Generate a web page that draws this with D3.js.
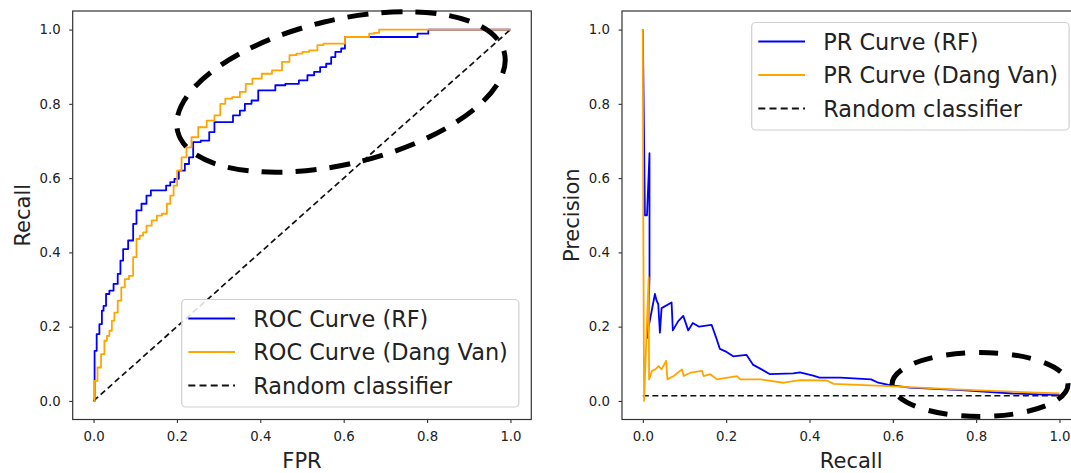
<!DOCTYPE html>
<html><head><meta charset="utf-8">
<script src="https://cdn.jsdelivr.net/npm/d3@7"></script>
<style>
html,body{margin:0;padding:0;background:#fff;}
svg{display:block;font-family:"DejaVu Sans",sans-serif;}
</style></head>
<body><svg id="c" width="1071" height="473"></svg>
<script>
// ---------- data ----------
const tickValues = [0, 0.2, 0.4, 0.6, 0.8, 1.0];

const rocRF_fpr = [0,0.005,0.01,0.018,0.022,0.026,0.034,0.042,0.054,0.062,0.067,0.075,0.091,0.099,0.107,0.123,0.131,0.144,0.172,0.176,0.192,0.196,0.213,0.225,0.233,0.245,0.269,0.286,0.294,0.326,0.343,0.359,0.367,0.391,0.399,0.432,0.44,0.48,0.505,0.521,0.537,0.55,0.566,0.574,0.586,0.602,0.604,0.773,0.781,0.801,0.805,1.0];
const rocRF_tpr = [0,0.135,0.18,0.207,0.243,0.256,0.288,0.297,0.315,0.342,0.378,0.409,0.432,0.477,0.513,0.531,0.553,0.567,0.567,0.58,0.589,0.598,0.62,0.638,0.656,0.697,0.701,0.724,0.751,0.751,0.769,0.782,0.8,0.809,0.836,0.836,0.85,0.854,0.863,0.877,0.886,0.899,0.908,0.926,0.94,0.949,0.98,0.98,0.989,0.989,1.0,1.0];

const rocDV_fpr = [0,0.005,0.014,0.022,0.03,0.034,0.042,0.046,0.054,0.062,0.071,0.079,0.091,0.099,0.107,0.115,0.123,0.131,0.148,0.156,0.172,0.18,0.188,0.196,0.205,0.217,0.229,0.241,0.261,0.282,0.298,0.31,0.322,0.343,0.359,0.371,0.391,0.416,0.44,0.464,0.476,0.497,0.505,0.529,0.545,0.558,0.602,0.604,0.659,0.663,0.683,0.687,1.0];
const rocDV_tpr = [0,0.054,0.09,0.126,0.162,0.175,0.189,0.216,0.238,0.27,0.306,0.328,0.337,0.387,0.436,0.445,0.454,0.472,0.486,0.499,0.504,0.531,0.553,0.58,0.62,0.656,0.683,0.71,0.737,0.755,0.769,0.8,0.814,0.818,0.832,0.854,0.868,0.881,0.89,0.913,0.931,0.935,0.94,0.944,0.958,0.962,0.962,0.98,0.98,0.989,0.991,1.0,1.0];

const prRF_recall = [0,0.005,0.01,0.016,0.016,0.012,0.014,0.029,0.033,0.037,0.041,0.045,0.069,0.072,0.085,0.097,0.109,0.12,0.135,0.165,0.177,0.185,0.201,0.217,0.249,0.265,0.285,0.305,0.361,0.377,0.409,0.424,0.474,0.548,0.565,0.59,0.64,0.764,0.888,1.0];
const prRF_precision = [1.0,0.5,0.5,0.667,0.333,0.17,0.2,0.288,0.27,0.261,0.184,0.25,0.265,0.19,0.215,0.229,0.19,0.21,0.2,0.205,0.167,0.14,0.132,0.12,0.124,0.097,0.085,0.072,0.074,0.077,0.068,0.063,0.063,0.058,0.049,0.043,0.036,0.029,0.02,0.016];

const prDV_recall = [0,0.001,0.003,0.014,0.015,0.022,0.03,0.038,0.045,0.056,0.059,0.074,0.094,0.098,0.114,0.142,0.146,0.162,0.178,0.226,0.234,0.282,0.338,0.378,0.442,0.458,0.546,0.59,0.75,1.0];
const prDV_precision = [1.0,0.5,0.0,0.333,0.058,0.081,0.085,0.094,0.085,0.108,0.058,0.067,0.085,0.067,0.076,0.081,0.067,0.072,0.058,0.067,0.058,0.058,0.049,0.056,0.055,0.046,0.042,0.040,0.031,0.02];

const randomBaseline = 0.014;

const legendLeft = ["ROC Curve (RF)", "ROC Curve (Dang Van)", "Random classifier"];
const legendRight = ["PR Curve (RF)", "PR Curve (Dang Van)", "Random classifier"];
const axisLabels = {leftX:"FPR", leftY:"Recall", rightX:"Recall", rightY:"Precision"};

// ---------- drawing ----------
const svg = d3.select("#c");
const BLUE = "#0000ff", ORANGE = "#ffa500", TXT = "#222";

function panel(x0, x1, y0, y1, xl, yl, ylx) {
  const x = d3.scaleLinear().domain([-0.05, 1.05]).range([x0, x1]);
  const y = d3.scaleLinear().domain([-0.05, 1.05]).range([y1, y0]);
  const g = svg.append("g");
  const fmt = d3.format(".1f");
  const ax = g.append("g").attr("transform", `translate(0,${y1})`)
    .call(d3.axisBottom(x).tickValues(tickValues).tickFormat(fmt).tickSize(3.5).tickPadding(8.5));
  const ay = g.append("g").attr("transform", `translate(${x0},0)`)
    .call(d3.axisLeft(y).tickValues(tickValues).tickFormat(fmt).tickSize(3.5).tickPadding(8.5));
  [ax, ay].forEach(a => {
    a.select(".domain").remove();
    a.selectAll("line").attr("stroke", "#333").attr("stroke-width", 1.1);
    a.selectAll("text").attr("fill", TXT).style("font-size", "13.3px").style("font-family", "DejaVu Sans");
  });
  g.append("text").attr("x", (x0 + x1) / 2).attr("y", 468).attr("text-anchor", "middle")
    .attr("fill", TXT).style("font-size", "21px").text(xl);
  g.append("text").attr("transform", `translate(${ylx},${(y0 + y1) / 2}) rotate(-90)`)
    .attr("text-anchor", "middle").attr("fill", TXT).style("font-size", "21px").text(yl);
  return {x, y, g, x0, x1, y0, y1};
}

function frame(p) {
  svg.append("rect").attr("x", p.x0).attr("y", p.y0).attr("width", p.x1 - p.x0).attr("height", p.y1 - p.y0)
    .attr("fill", "none").attr("stroke", "#333").attr("stroke-width", 1.2);
}

function curve(p, xs, ys, color, c) {
  const line = d3.line().x(d => p.x(d[0])).y(d => p.y(d[1])).curve(c || d3.curveLinear);
  p.g.append("path").datum(xs.map((v, i) => [v, ys[i]])).attr("d", line)
    .attr("fill", "none").attr("stroke", color).attr("stroke-width", 1.8).attr("stroke-linejoin", "round");
}

function dashed(p, pts) {
  const line = d3.line().x(d => p.x(d[0])).y(d => p.y(d[1]));
  p.g.append("path").datum(pts).attr("d", line).attr("fill", "none")
    .attr("stroke", "#111").attr("stroke-width", 1.7).attr("stroke-dasharray", "6,3.5");
}

function legend(bx, by, labels) {
  const g = svg.append("g");
  const rect = g.append("rect").attr("x", bx).attr("y", by).attr("rx", 4)
    .attr("fill", "#fff").attr("fill-opacity", 0.85).attr("stroke", "#d0d0d0").attr("stroke-width", 1.2);
  const colors = [BLUE, ORANGE, "#111"];
  let maxW = 0;
  labels.forEach((t, i) => {
    const ly = by + 19 + i * 33.5;
    g.append("line").attr("x1", bx + 6.6).attr("x2", bx + 53.3).attr("y1", ly).attr("y2", ly)
      .attr("stroke", colors[i]).attr("stroke-width", i < 2 ? 2 : 1.8)
      .attr("stroke-dasharray", i === 2 ? "7,4.2" : null);
    const tx = g.append("text").attr("x", bx + 71.6).attr("y", ly).attr("dy", "0.36em")
      .attr("fill", TXT).style("font-size", "22.4px").text(t);
    maxW = Math.max(maxW, tx.node().getComputedTextLength());
  });
  rect.attr("width", 71.6 + maxW + 11).attr("height", 19 + 2 * 33.5 + 21.5);
}

// Left panel: ROC
const L = panel(72.7, 531.3, 11, 419.5, axisLabels.leftX, axisLabels.leftY, 29.5);
dashed(L, [[0, 0], [1, 1]]);
curve(L, rocRF_fpr, rocRF_tpr, BLUE, d3.curveStep);
curve(L, rocDV_fpr, rocDV_tpr, ORANGE, d3.curveStep);
frame(L);
legend(181.7, 299.5, legendLeft);

// Right panel: PR
const R = panel(622, 1080.3, 11, 419.5, axisLabels.rightX, axisLabels.rightY, 578.5);
dashed(R, [[0, randomBaseline], [1, randomBaseline]]);
curve(R, prRF_recall, prRF_precision, BLUE);
curve(R, prDV_recall, prDV_precision, ORANGE);
frame(R);
legend(751.7, 22.5, legendRight);

// Annotation ellipses (dashed, hand-placed highlight)
svg.append("ellipse").attr("cx", 0).attr("cy", 0).attr("rx", 168).attr("ry", 72)
  .attr("transform", "translate(341,92) rotate(-13.5)")
  .attr("fill", "none").attr("stroke", "#000").attr("stroke-width", 5).attr("stroke-dasharray", "21,13");
svg.append("ellipse").attr("cx", 980).attr("cy", 384.5).attr("rx", 88).attr("ry", 32)
  .attr("fill", "none").attr("stroke", "#000").attr("stroke-width", 5).attr("stroke-dasharray", "19,14");
</script></body></html>
